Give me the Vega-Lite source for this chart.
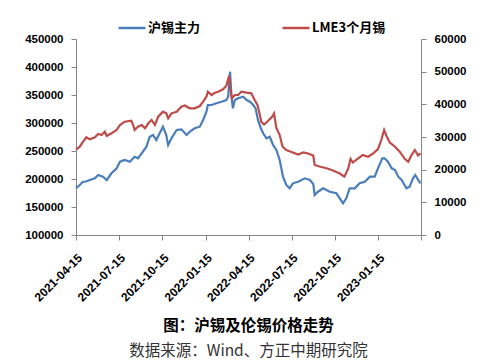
{
  "$schema": "https://vega.github.io/schema/vega-lite/v6.json",
  "width": 345,
  "height": 196,
  "autosize": {"type": "none"},
  "padding": {"left": 76, "top": 39, "right": 70, "bottom": 128},
  "background": "white",
  "config": {
    "view": {"stroke": null},
    "axis": {
      "grid": false,
      "domainColor": "#868686",
      "tickColor": "#868686",
      "tickSize": 5,
      "labelFont": "Liberation Sans",
      "labelFontWeight": "bold",
      "labelFontSize": 11.5,
      "labelColor": "#000000",
      "title": null
    },
    "legend": {
      "labelFont": "Noto Sans CJK SC",
      "labelFontWeight": "bold",
      "labelFontSize": 13,
      "labelColor": "#000000"
    }
  },
  "title": {
    "text": "图：沪锡及伦锡价格走势",
    "subtitle": "数据来源：Wind、方正中期研究院",
    "orient": "bottom",
    "anchor": "middle",
    "frame": "group",
    "font": "Noto Sans CJK SC",
    "fontSize": 15.5,
    "fontWeight": "bold",
    "color": "#000000",
    "subtitleFont": "Noto Sans CJK SC",
    "subtitleFontSize": 15.5,
    "subtitleColor": "#333333",
    "subtitlePadding": 9,
    "offset": 16
  },
  "datasets": {
    "shfe": [
      {"date": "2021-04-15", "price": 183400},
      {"date": "2021-04-23", "price": 189300},
      {"date": "2021-04-29", "price": 194600},
      {"date": "2021-05-06", "price": 195500},
      {"date": "2021-05-14", "price": 198200},
      {"date": "2021-05-25", "price": 201200},
      {"date": "2021-06-01", "price": 207100},
      {"date": "2021-06-11", "price": 204100},
      {"date": "2021-06-19", "price": 198200},
      {"date": "2021-06-29", "price": 210200},
      {"date": "2021-07-10", "price": 219100},
      {"date": "2021-07-17", "price": 230900},
      {"date": "2021-07-27", "price": 233900},
      {"date": "2021-08-07", "price": 230900},
      {"date": "2021-08-17", "price": 239800},
      {"date": "2021-08-24", "price": 237000},
      {"date": "2021-09-01", "price": 245900},
      {"date": "2021-09-11", "price": 257700},
      {"date": "2021-09-18", "price": 275500},
      {"date": "2021-09-25", "price": 278600},
      {"date": "2021-10-02", "price": 269600},
      {"date": "2021-10-09", "price": 281600},
      {"date": "2021-10-16", "price": 293400},
      {"date": "2021-10-23", "price": 278600},
      {"date": "2021-10-27", "price": 260700},
      {"date": "2021-11-03", "price": 272700},
      {"date": "2021-11-14", "price": 287500},
      {"date": "2021-11-24", "price": 288700},
      {"date": "2021-12-05", "price": 278600},
      {"date": "2021-12-12", "price": 284500},
      {"date": "2021-12-22", "price": 290500},
      {"date": "2022-01-02", "price": 293400},
      {"date": "2022-01-09", "price": 305400},
      {"date": "2022-01-16", "price": 320200},
      {"date": "2022-01-19", "price": 332100},
      {"date": "2022-01-27", "price": 332100},
      {"date": "2022-02-06", "price": 335200},
      {"date": "2022-02-17", "price": 338000},
      {"date": "2022-02-27", "price": 341100},
      {"date": "2022-03-03", "price": 347000},
      {"date": "2022-03-07", "price": 391600},
      {"date": "2022-03-10", "price": 347000},
      {"date": "2022-03-13", "price": 326200},
      {"date": "2022-03-17", "price": 341100},
      {"date": "2022-03-24", "price": 344100},
      {"date": "2022-04-04", "price": 347000},
      {"date": "2022-04-11", "price": 341100},
      {"date": "2022-04-18", "price": 338000},
      {"date": "2022-04-25", "price": 332100},
      {"date": "2022-04-30", "price": 326200},
      {"date": "2022-05-05", "price": 305400},
      {"date": "2022-05-11", "price": 291100},
      {"date": "2022-05-16", "price": 281600},
      {"date": "2022-05-23", "price": 272700},
      {"date": "2022-05-30", "price": 275500},
      {"date": "2022-06-06", "price": 260700},
      {"date": "2022-06-13", "price": 251800},
      {"date": "2022-06-20", "price": 233900},
      {"date": "2022-06-27", "price": 204100},
      {"date": "2022-07-04", "price": 189300},
      {"date": "2022-07-11", "price": 183400},
      {"date": "2022-07-18", "price": 192300},
      {"date": "2022-07-29", "price": 195200},
      {"date": "2022-08-12", "price": 201200},
      {"date": "2022-08-23", "price": 198200},
      {"date": "2022-08-30", "price": 191100},
      {"date": "2022-09-02", "price": 171400},
      {"date": "2022-09-09", "price": 177300},
      {"date": "2022-09-20", "price": 183400},
      {"date": "2022-10-04", "price": 177300},
      {"date": "2022-10-18", "price": 174500},
      {"date": "2022-10-25", "price": 165500},
      {"date": "2022-11-01", "price": 156600},
      {"date": "2022-11-08", "price": 165500},
      {"date": "2022-11-15", "price": 183400},
      {"date": "2022-11-26", "price": 183400},
      {"date": "2022-12-06", "price": 192300},
      {"date": "2022-12-17", "price": 195200},
      {"date": "2022-12-28", "price": 204100},
      {"date": "2023-01-07", "price": 204100},
      {"date": "2023-01-14", "price": 219100},
      {"date": "2023-01-23", "price": 237000},
      {"date": "2023-01-28", "price": 237000},
      {"date": "2023-02-04", "price": 230900},
      {"date": "2023-02-12", "price": 219100},
      {"date": "2023-02-19", "price": 216100},
      {"date": "2023-02-26", "price": 204100},
      {"date": "2023-03-05", "price": 198200},
      {"date": "2023-03-15", "price": 183400},
      {"date": "2023-03-22", "price": 186200},
      {"date": "2023-03-29", "price": 201200},
      {"date": "2023-04-03", "price": 207100},
      {"date": "2023-04-09", "price": 198200},
      {"date": "2023-04-14", "price": 192300}
    ],
    "lme": [
      {"date": "2021-04-15", "price": 26170},
      {"date": "2021-04-23", "price": 27030},
      {"date": "2021-04-30", "price": 28560},
      {"date": "2021-05-07", "price": 29910},
      {"date": "2021-05-14", "price": 29290},
      {"date": "2021-05-25", "price": 29910},
      {"date": "2021-06-01", "price": 30920},
      {"date": "2021-06-08", "price": 30610},
      {"date": "2021-06-15", "price": 31620},
      {"date": "2021-06-19", "price": 30300},
      {"date": "2021-06-29", "price": 31130},
      {"date": "2021-07-10", "price": 32140},
      {"date": "2021-07-17", "price": 33670},
      {"date": "2021-07-27", "price": 34680},
      {"date": "2021-08-10", "price": 34990},
      {"date": "2021-08-14", "price": 33670},
      {"date": "2021-08-17", "price": 32140},
      {"date": "2021-08-24", "price": 33150},
      {"date": "2021-09-01", "price": 33670},
      {"date": "2021-09-08", "price": 32660},
      {"date": "2021-09-15", "price": 34190},
      {"date": "2021-09-22", "price": 35200},
      {"date": "2021-09-29", "price": 33670},
      {"date": "2021-10-06", "price": 36210},
      {"date": "2021-10-16", "price": 37740},
      {"date": "2021-10-23", "price": 37250},
      {"date": "2021-10-27", "price": 35720},
      {"date": "2021-11-03", "price": 37250},
      {"date": "2021-11-14", "price": 37740},
      {"date": "2021-11-24", "price": 39270},
      {"date": "2021-12-01", "price": 39640},
      {"date": "2021-12-12", "price": 38780},
      {"date": "2021-12-22", "price": 38780},
      {"date": "2022-01-02", "price": 39490},
      {"date": "2022-01-09", "price": 40800},
      {"date": "2022-01-16", "price": 42330},
      {"date": "2022-01-19", "price": 43860},
      {"date": "2022-01-27", "price": 42850},
      {"date": "2022-02-03", "price": 43560},
      {"date": "2022-02-10", "price": 43860},
      {"date": "2022-02-20", "price": 44600},
      {"date": "2022-02-27", "price": 45610},
      {"date": "2022-03-05", "price": 48820},
      {"date": "2022-03-08", "price": 44380},
      {"date": "2022-03-11", "price": 41840},
      {"date": "2022-03-17", "price": 42850},
      {"date": "2022-03-24", "price": 42850},
      {"date": "2022-03-31", "price": 43860},
      {"date": "2022-04-11", "price": 43560},
      {"date": "2022-04-21", "price": 43380},
      {"date": "2022-04-28", "price": 41320},
      {"date": "2022-05-04", "price": 39790},
      {"date": "2022-05-09", "price": 36730},
      {"date": "2022-05-12", "price": 34680},
      {"date": "2022-05-18", "price": 33820},
      {"date": "2022-05-26", "price": 34900},
      {"date": "2022-06-04", "price": 36210},
      {"date": "2022-06-08", "price": 37190},
      {"date": "2022-06-13", "price": 32750},
      {"date": "2022-06-20", "price": 30610},
      {"date": "2022-06-26", "price": 27030},
      {"date": "2022-07-04", "price": 26020},
      {"date": "2022-07-15", "price": 25410},
      {"date": "2022-07-29", "price": 24640},
      {"date": "2022-08-09", "price": 25250},
      {"date": "2022-08-19", "price": 24950},
      {"date": "2022-08-30", "price": 24340},
      {"date": "2022-09-02", "price": 21430},
      {"date": "2022-09-14", "price": 20910},
      {"date": "2022-09-27", "price": 20420},
      {"date": "2022-10-11", "price": 19740},
      {"date": "2022-10-25", "price": 18830},
      {"date": "2022-11-04", "price": 17850},
      {"date": "2022-11-12", "price": 20360},
      {"date": "2022-11-17", "price": 23260},
      {"date": "2022-11-22", "price": 22190},
      {"date": "2022-12-03", "price": 23480},
      {"date": "2022-12-13", "price": 24490},
      {"date": "2022-12-24", "price": 23970},
      {"date": "2023-01-04", "price": 25010},
      {"date": "2023-01-14", "price": 26320},
      {"date": "2023-01-21", "price": 29080},
      {"date": "2023-01-27", "price": 32140},
      {"date": "2023-02-01", "price": 30300},
      {"date": "2023-02-08", "price": 28310},
      {"date": "2023-02-19", "price": 27030},
      {"date": "2023-03-01", "price": 25500},
      {"date": "2023-03-12", "price": 23260},
      {"date": "2023-03-19", "price": 22440},
      {"date": "2023-03-26", "price": 24490},
      {"date": "2023-04-02", "price": 26020},
      {"date": "2023-04-09", "price": 24340},
      {"date": "2023-04-14", "price": 25010}
    ]
  },
  "encoding": {
    "x": {
      "field": "date",
      "type": "temporal",
      "scale": {
        "type": "utc",
        "domain": [
          {"year": 2021, "month": 4, "date": 15, "utc": true},
          {"year": 2023, "month": 4, "date": 15, "utc": true}
        ]
      },
      "axis": {
        "values": [
          {"year": 2021, "month": 4, "date": 15, "utc": true},
          {"year": 2021, "month": 7, "date": 15, "utc": true},
          {"year": 2021, "month": 10, "date": 15, "utc": true},
          {"year": 2022, "month": 1, "date": 15, "utc": true},
          {"year": 2022, "month": 4, "date": 15, "utc": true},
          {"year": 2022, "month": 7, "date": 15, "utc": true},
          {"year": 2022, "month": 10, "date": 15, "utc": true},
          {"year": 2023, "month": 1, "date": 15, "utc": true},
          {"year": 2023, "month": 4, "date": 15, "utc": true}
        ],
        "labelExpr": "datum.value > utc(2023, 2, 1) ? '' : utcFormat(datum.value, '%Y-%m-%d')",
        "labelAngle": -45,
        "labelFontSize": 12,
        "labelPadding": 12,
        "labelOverlap": false,
        "labelBound": false,
        "labelFlush": false
      }
    }
  },
  "layer": [
    {
      "data": {"name": "shfe"},
      "mark": {"type": "line", "strokeWidth": 2.2, "interpolate": "linear"},
      "encoding": {
        "y": {
          "field": "price",
          "type": "quantitative",
          "scale": {"domain": [100000, 450000], "nice": false, "zero": false},
          "axis": {
            "orient": "left",
            "values": [100000, 150000, 200000, 250000, 300000, 350000, 400000, 450000],
            "format": "d",
            "labelPadding": 8
          }
        },
        "color": {
          "datum": "沪锡主力",
          "type": "nominal",
          "scale": {"domain": ["沪锡主力", "LME3个月锡"], "range": ["#4A7EBB", "#BE4B48"]},
          "legend": {
            "title": null,
            "orient": "none",
            "direction": "horizontal",
            "legendX": 41,
            "legendY": -26,
            "symbolType": "stroke",
            "symbolSize": 729,
            "symbolStrokeWidth": 2.5,
            "labelOffset": 1,
            "columnPadding": 76,
            "padding": 0
          }
        }
      }
    },
    {
      "data": {"name": "lme"},
      "mark": {"type": "line", "strokeWidth": 2.2, "interpolate": "linear"},
      "encoding": {
        "y": {
          "field": "price",
          "type": "quantitative",
          "scale": {"domain": [0, 60000], "nice": false},
          "axis": {
            "orient": "right",
            "values": [0, 10000, 20000, 30000, 40000, 50000, 60000],
            "format": "d",
            "labelPadding": 8
          }
        },
        "color": {"datum": "LME3个月锡", "type": "nominal"}
      }
    }
  ],
  "resolve": {"scale": {"y": "independent"}}
}
